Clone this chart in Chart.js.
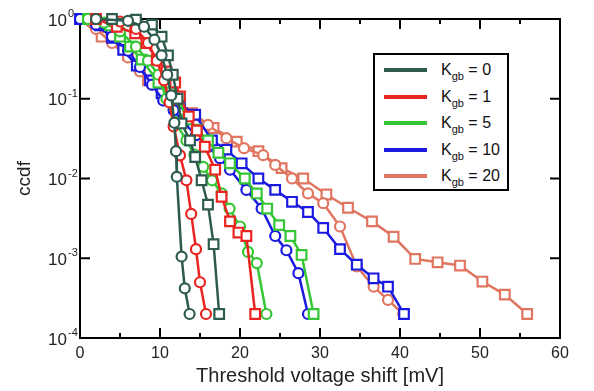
<!DOCTYPE html>
<html>
<head>
<meta charset="utf-8">
<script src="https://cdn.jsdelivr.net/npm/chart.js@4.4.1/dist/chart.umd.min.js"></script>
<style>
  body { margin: 0; background: #fff; }
  #wrap { position: relative; width: 594px; height: 391px; }
  #legend {
    position: absolute; left: 373px; top: 53px; width: 132px; height: 134px;
    border: 2px solid #000; background: #fff;
    font-family: "Liberation Sans", Arial, sans-serif; font-size: 16px; color: #111;
  }
  #legend .row { position: absolute; left: 0; height: 20px; }
  #legend .swatch { position: absolute; left: 9px; top: 8px; width: 43px; height: 4px; }
  #legend .txt { position: absolute; left: 66px; top: 0; white-space: nowrap; line-height: 20px; }
  #legend sub { font-size: 11px; vertical-align: -5px; line-height: 0; }
</style>
</head>
<body>
<div id="wrap">
  <canvas id="chart" width="594" height="391"></canvas>
  <div id="legend"></div>
</div>
<script>
// series labels + colours
const kValues = [0, 1, 5, 10, 20];
const seriesColors = ['#2e5b50', '#ea2420', '#34c634', '#1a1ae0', '#e07560'];

// [threshold voltage shift (mV), ccdf]
const k0Circles = [[2, 1], [6, 0.95], [8, 0.8], [9.3, 0.55], [10.2, 0.35], [10.9, 0.2], [11.4, 0.11], [11.8, 0.05], [12.0, 0.022], [12.1, 0.0105], [12.7, 0.00105], [13.1, 0.00042], [13.7, 0.0002]];
const k0Squares = [[4, 1], [7, 0.98], [9, 0.85], [10.2, 0.6], [11, 0.35], [11.6, 0.2], [12.2, 0.1], [12.7, 0.049], [13.75, 0.03], [14.4, 0.0186], [15.2, 0.0095], [16.0, 0.0047], [16.7, 0.0015], [17.4, 0.0002]];
const k1Circles = [[2, 1], [5, 0.93], [7, 0.75], [8.5, 0.5], [9.6, 0.3], [10.5, 0.17], [11.2, 0.09], [11.7, 0.045], [12.5, 0.0195], [13.3, 0.0095], [13.9, 0.0036], [14.5, 0.0013], [15.0, 0.0005], [15.75, 0.0002]];
const k1Squares = [[2, 1], [4.6, 0.8], [6.9, 0.66], [8.3, 0.5], [9.6, 0.31], [10.8, 0.22], [11.9, 0.16], [12.5, 0.107], [13.6, 0.06], [14.6, 0.04], [15.6, 0.025], [16.9, 0.0129], [17.7, 0.0059], [18.75, 0.0029], [19.8, 0.0021], [20.8, 0.0019], [21.9, 0.0002]];
const k5Circles = [[1, 1], [3, 0.9], [5, 0.7], [7, 0.45], [8.5, 0.3], [9.8, 0.2], [10.8, 0.1], [11.9, 0.051], [13.3, 0.03], [14.3, 0.02], [15.4, 0.014], [16.5, 0.0095], [17.7, 0.0065], [18.7, 0.0042], [20.0, 0.0025], [21.0, 0.0012], [22.1, 0.00087], [23.3, 0.0002]];
const k5Squares = [[1, 1], [3.75, 0.83], [5, 0.6], [6.25, 0.45], [7.7, 0.31], [9.8, 0.16], [11.2, 0.12], [12.3, 0.1], [13.4, 0.055], [14.6, 0.041], [16, 0.03], [17.3, 0.021], [18.75, 0.0155], [20.6, 0.01], [22.1, 0.0065], [23.4, 0.0042], [24.9, 0.0026], [26.3, 0.0019], [27.7, 0.0011], [29.2, 0.0002]];
const k10Circles = [[0, 1], [2, 0.85], [4, 0.6], [6, 0.4], [7.5, 0.25], [9, 0.15], [10.4, 0.095], [11.7, 0.072], [13, 0.05], [14.5, 0.035], [16, 0.025], [17.5, 0.018], [18.75, 0.0129], [20.8, 0.0072], [22.7, 0.0042], [24.4, 0.0019], [25.8, 0.00126], [27.3, 0.00065], [28.5, 0.0002]];
const k10Squares = [[0, 1], [2.5, 0.83], [4, 0.58], [5.4, 0.41], [7.1, 0.26], [8.75, 0.17], [10.2, 0.117], [12.5, 0.087], [14.4, 0.063], [16.5, 0.03], [18.3, 0.023], [20.2, 0.0155], [22.3, 0.01], [24.4, 0.0072], [26.5, 0.0051], [28.5, 0.0038], [30.4, 0.0024], [32.5, 0.0013], [34.6, 0.00083], [36.7, 0.00056], [38.5, 0.00044], [40.5, 0.0002]];
const k20Circles = [[0, 1], [2, 0.75], [4, 0.5], [6, 0.33], [7.5, 0.22], [9, 0.15], [10.5, 0.11], [12, 0.085], [14, 0.065], [16, 0.047], [18.3, 0.032], [20.5, 0.024], [22.9, 0.0196], [24.4, 0.0148], [26.5, 0.01], [28.5, 0.0065], [30.4, 0.0049], [32.5, 0.0025], [34.6, 0.00079], [36.7, 0.00044], [38.5, 0.0003], [40.4, 0.0002]];
const k20Squares = [[0, 1], [2.7, 0.6], [6.0, 0.355], [8.5, 0.17], [11.25, 0.102], [14.0, 0.066], [16.7, 0.043], [19.6, 0.029], [22.3, 0.022], [25.2, 0.0135], [27.9, 0.01], [30.8, 0.0063], [33.5, 0.0043], [36.5, 0.0029], [39.2, 0.00186], [41.9, 0.00098], [44.7, 0.00089], [47.5, 0.00081], [50.3, 0.00051], [53.1, 0.00035], [55.9, 0.0002]];

const circleSets = [k0Circles, k1Circles, k5Circles, k10Circles, k20Circles];
const squareSets = [k0Squares, k1Squares, k5Squares, k10Squares, k20Squares];

// axis ticks
const xTickValues = [0, 5, 10, 15, 20, 25, 30, 35, 40, 45, 50, 55, 60];
const yTickValues = [1, 0.1, 0.01, 0.001, 0.0001];
const yTickExponents = ['0', '-1', '-2', '-3', '-4'];

const FONT = '"Liberation Sans", Arial, sans-serif';

function makeSet(points, i, style, radius) {
  return {
    label: 'K_gb = ' + kValues[i],
    data: points.map(p => ({ x: p[0], y: p[1] })),
    borderColor: seriesColors[i],
    backgroundColor: '#fff',
    borderWidth: 2.5,
    pointStyle: style,
    pointRadius: radius,
    pointBorderWidth: 2.2,
    pointBackgroundColor: '#fff',
    pointBorderColor: seriesColors[i],
    tension: 0,
    clip: false
  };
}

const datasets = [];
kValues.forEach((k, i) => {
  datasets.push(makeSet(circleSets[i], i, 'circle', 5));
  datasets.push(makeSet(squareSets[i], i, 'rect', 6.8));
});

// frame, inward ticks and 10^n labels
const framePlugin = {
  id: 'frame',
  beforeDatasetsDraw(chart) {
    const { ctx, chartArea: a, scales: { x, y } } = chart;
    ctx.save();
    ctx.strokeStyle = '#000';
    ctx.lineWidth = 2;
    ctx.strokeRect(a.left, a.top, a.right - a.left, a.bottom - a.top);
    ctx.beginPath();
    xTickValues.forEach(v => {
      const px = x.getPixelForValue(v);
      const len = v % 10 === 0 ? 10 : 5;
      ctx.moveTo(px, a.bottom); ctx.lineTo(px, a.bottom - len);
      ctx.moveTo(px, a.top); ctx.lineTo(px, a.top + len);
    });
    yTickValues.forEach(v => {
      const py = y.getPixelForValue(v);
      ctx.moveTo(a.left, py); ctx.lineTo(a.left + 10, py);
      ctx.moveTo(a.right, py); ctx.lineTo(a.right - 10, py);
    });
    ctx.stroke();

    ctx.fillStyle = '#222';
    yTickValues.forEach((v, i) => {
      const py = y.getPixelForValue(v);
      ctx.font = '17px ' + FONT;
      ctx.textAlign = 'right';
      ctx.textBaseline = 'middle';
      ctx.fillText('10', a.left - 13, py + 2);
      ctx.font = '11px ' + FONT;
      ctx.textAlign = 'left';
      ctx.fillText(yTickExponents[i], a.left - 12, py - 5);
    });
    ctx.restore();
  }
};

new Chart(document.getElementById('chart'), {
  type: 'line',
  data: { datasets: datasets },
  options: {
    responsive: false,
    animation: false,
    devicePixelRatio: 1,
    layout: { padding: { top: 19, right: 34, left: 0, bottom: 0 } },
    plugins: { legend: { display: false }, tooltip: { enabled: false } },
    scales: {
      x: {
        type: 'linear',
        min: 0,
        max: 60,
        afterBuildTicks: scale => { scale.ticks = xTickValues.filter(v => v % 10 === 0).map(v => ({ value: v })); },
        afterFit: scale => { scale.height = 53; },
        grid: { display: false, drawTicks: false },
        border: { display: false },
        ticks: { padding: 6, color: '#222', font: { family: FONT, size: 16 } },
        title: { display: true, text: 'Threshold voltage shift [mV]', color: '#222', font: { family: FONT, size: 20 }, padding: { top: 0, bottom: 3 } }
      },
      y: {
        type: 'logarithmic',
        min: 0.0001,
        max: 1,
        afterFit: scale => { scale.width = 80; },
        grid: { display: false, drawTicks: false },
        border: { display: false },
        ticks: { display: false },
        title: { display: true, text: 'ccdf', color: '#222', font: { family: FONT, size: 19 }, padding: { top: 13, bottom: 0 } }
      }
    }
  },
  plugins: [framePlugin]
});

// legend: lines only, subscripted labels
const legend = document.getElementById('legend');
kValues.forEach((k, i) => {
  const row = document.createElement('div');
  row.className = 'row';
  row.style.top = (5 + i * 26.5) + 'px';
  row.innerHTML = '<div class="swatch" style="background:' + seriesColors[i] + '"></div>' +
    '<div class="txt">K<sub>gb</sub> = ' + k + '</div>';
  legend.appendChild(row);
});
</script>
</body>
</html>
